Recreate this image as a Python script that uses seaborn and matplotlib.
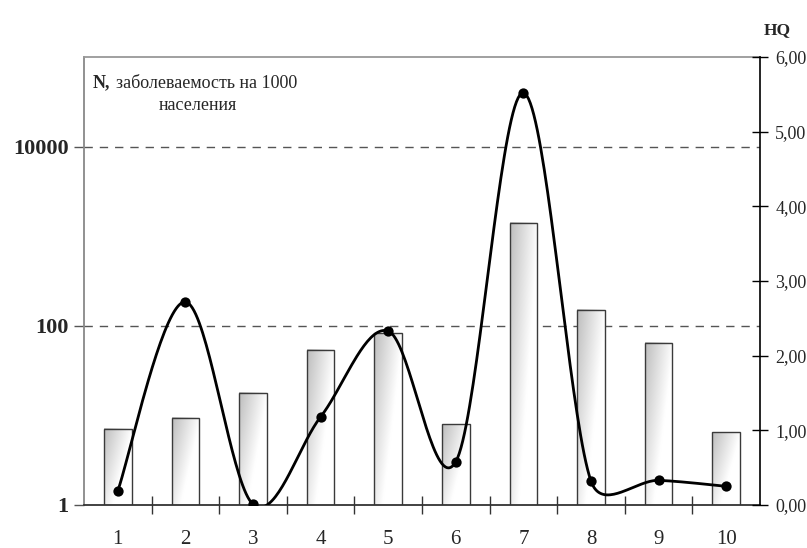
import numpy as np
import pandas as pd
import matplotlib
matplotlib.use("Agg")
import matplotlib.pyplot as plt
from matplotlib.ticker import FixedLocator, FuncFormatter, NullLocator
import seaborn as sns

# --- data -------------------------------------------------------------
categories = ["1", "2", "3", "4", "5", "6", "7", "8", "9", "10"]
incidence = [7.1, 9.4, 17.8, 54, 83, 8.0, 1413, 151, 65, 6.5]      # N per 1000 (log axis)
hq_values = [0.19, 2.72, 0.01, 1.18, 2.33, 0.58, 5.52, 0.32, 0.33, 0.25]  # HQ (right axis)
left_ticks = [1, 100, 10000]
right_ticks = [0, 1, 2, 3, 4, 5, 6]

df = pd.DataFrame({"cat": categories, "N": incidence})

sns.set_theme(style="white")
plt.rcParams["font.family"] = ["Liberation Serif", "DejaVu Serif"]

fig = plt.figure(figsize=(8.07, 5.48), dpi=100)
ax = fig.add_axes([84 / 807, 1 - 505 / 548, (760 - 84) / 807, (505 - 57) / 548])
ax.set_yscale("log")
ax.set_ylim(1, 1e5)

sns.barplot(data=df, x="cat", y="N", ax=ax, width=0.41, color="white",
            edgecolor="#3a3a3a", linewidth=1.0, zorder=2)
ax.set_xlim(-0.5, len(categories) - 0.5)
ax.set_ylim(1, 1e5)

# gradient fill inside each bar (grey at upper-left fading to white)
gx = np.linspace(0, 1, 60)
gy = np.linspace(0, 1, 200)
U, V = np.meshgrid(gx, gy)   # V: 0 at top
shade = 0.74 + 0.26 * np.clip(0.95 * U + 0.7 * V, 0, 1)
grad = np.dstack([shade, shade, shade])
to_axes = ax.transData + ax.transAxes.inverted()
for p in ax.patches:
    x0 = p.get_x()
    w = p.get_width()
    h = p.get_height()
    (ax0, ay1) = to_axes.transform((x0, h))
    (ax1, _) = to_axes.transform((x0 + w, h))
    p.set_facecolor("none")
    ax.imshow(grad, extent=(ax0, ax1, 0, ay1), transform=ax.transAxes,
              aspect="auto", interpolation="bilinear", zorder=1.5, origin="upper")

# dashed reference lines
for v in [100, 10000]:
    ax.axhline(v, color="#555555", lw=1.0, ls=(0, (6, 5)), zorder=1)

ax.yaxis.set_major_locator(FixedLocator(left_ticks))
ax.yaxis.set_minor_locator(NullLocator())
ax.yaxis.set_major_formatter(FuncFormatter(lambda v, _: f"{int(round(v))}"))
ax.tick_params(axis="y", which="major", direction="out", length=7, width=1,
               color="#555555", pad=4, labelsize=16)
for t in ax.get_yticklabels():
    t.set_fontweight("bold")

ax.set_xlabel("")
ax.set_ylabel("")
ax.set_xticks(range(len(categories)))
ax.set_xticklabels(categories)
ax.xaxis.set_minor_locator(FixedLocator(np.arange(0.5, len(categories) - 1, 1.0)))
ax.tick_params(axis="x", which="major", length=0, pad=18, labelsize=15)
ax.tick_params(axis="x", which="minor", direction="inout", length=13, width=1,
               color="#333333", bottom=True)

for side, col in [("left", "#888888"), ("top", "#999999"), ("bottom", "#333333")]:
    ax.spines[side].set_visible(True)
    ax.spines[side].set_color(col)
    ax.spines[side].set_linewidth(1.3)
ax.spines["right"].set_visible(False)

# --- right axis: HQ smooth curve --------------------------------------
ax2 = ax.twinx()
ax2.set_ylim(0, 6)
ax2.set_xlim(ax.get_xlim())
for s in ["left", "top", "bottom"]:
    ax2.spines[s].set_visible(False)
ax2.spines["right"].set_color("black")
ax2.spines["right"].set_linewidth(1.2)
ax2.yaxis.set_major_locator(FixedLocator(right_ticks))
ax2.yaxis.set_major_formatter(FuncFormatter(lambda v, _: f"{v:.2f}".replace(".", ",")))
ax2.tick_params(axis="y", direction="inout", length=12, width=1, color="black",
                pad=5, labelsize=13)
ax2.grid(False)


def smooth_curve(xs, ys, sx, sy, n=40):
    """Bezier smoothing with handle length limited to half a segment."""
    P = np.column_stack([np.asarray(xs, float) * sx, np.asarray(ys, float) * sy])
    out = []
    m = len(P)
    for i in range(m - 1):
        p0 = P[i - 1] if i > 0 else P[i]
        p1, p2 = P[i], P[i + 1]
        p3 = P[i + 2] if i + 2 < m else P[i + 1]
        d02 = np.linalg.norm(p2 - p0)
        d12 = np.linalg.norm(p2 - p1)
        d13 = np.linalg.norm(p3 - p1)
        b1 = 1 / 6 if d02 / 6 < d12 / 2 else d12 / (2 * d02)
        b2 = 1 / 6 if d13 / 6 < d12 / 2 else d12 / (2 * d13)
        c1 = p1 + b1 * (p2 - p0)
        c2 = p2 - b2 * (p3 - p1)
        t = np.linspace(0, 1, n)[:, None]
        seg = ((1 - t) ** 3) * p1 + 3 * ((1 - t) ** 2) * t * c1 + 3 * (1 - t) * t ** 2 * c2 + t ** 3 * p2
        out.append(seg if i == 0 else seg[1:])
    c = np.vstack(out)
    return c[:, 0] / sx, c[:, 1] / sy


xpos = np.arange(len(categories))
cx, cy = smooth_curve(xpos, hq_values, 67.6, 74.7)
sns.lineplot(x=cx, y=cy, ax=ax2, color="black", lw=2.0, sort=False, zorder=3)
sns.scatterplot(x=xpos, y=hq_values, ax=ax2, color="black", s=55, zorder=4,
                edgecolor="black", linewidth=0)
ax2.set_ylim(0, 6)
ax2.set_xlim(-0.5, len(categories) - 0.5)
ax2.set_ylabel("")

# --- text -------------------------------------------------------------
fig.text(777 / 807, 1 - 30 / 548, "HQ", fontsize=12.5, fontweight="bold",
         ha="center", va="center")
fig.text(93 / 807, 1 - 83 / 548, "N,", fontsize=13,
         fontweight="bold", ha="left", va="center")
fig.text(116 / 807, 1 - 83 / 548, "заболеваемость на 1000", fontsize=13,
         ha="left", va="center")
fig.text(198 / 807, 1 - 106 / 548, "населения", fontsize=13,
         ha="center", va="center")

fig.savefig("out.png", dpi=100)
